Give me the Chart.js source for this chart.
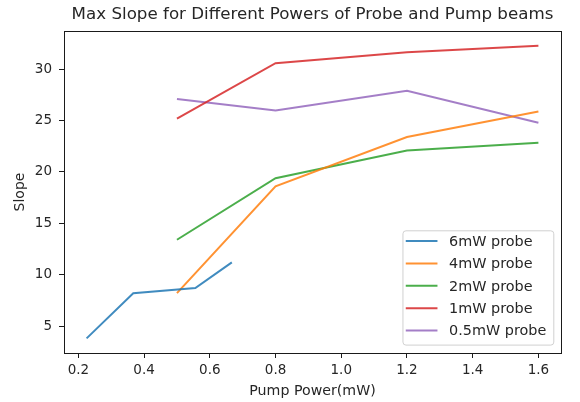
<!DOCTYPE html>
<html>
<head>
<meta charset="utf-8">
<script src="https://cdn.jsdelivr.net/npm/chart.js@4"></script>
<style>
  body { margin: 0; background: #fff; }
</style>
</head>
<body>
<canvas id="myChart" width="580" height="402"></canvas>
<script>
// values
const pump6 = [0.225, 0.367, 0.556, 0.667];
const slope6 = [3.8, 8.2, 8.7, 11.2];
const pumpPowers = [0.5, 0.8, 1.2, 1.6];
const slope4 = [8.2, 18.6, 23.4, 25.9];
const slope2 = [13.4, 19.4, 22.1, 22.85];
const slope1 = [25.2, 30.6, 31.65, 32.3];
const slope05 = [27.1, 26.0, 27.9, 24.8];
const probeLabels = ["6mW probe", "4mW probe", "2mW probe", "1mW probe", "0.5mW probe"];
const lineColors = [
  "rgba(31,119,180,0.85)",
  "rgba(255,127,14,0.85)",
  "rgba(44,160,44,0.85)",
  "rgba(214,39,40,0.85)",
  "rgba(148,103,189,0.85)",
];
const xTicks = [0.2, 0.4, 0.6, 0.8, 1.0, 1.2, 1.4, 1.6];
const yTicks = [5, 10, 15, 20, 25, 30];

const FONT = "'DejaVu Sans', sans-serif";
const TEXT = "#262626";

function pts(xs, ys) {
  return xs.map((x, i) => ({ x: x, y: ys[i] }));
}

const series = [
  pts(pump6, slope6),
  pts(pumpPowers, slope4),
  pts(pumpPowers, slope2),
  pts(pumpPowers, slope1),
  pts(pumpPowers, slope05),
];

// matplotlib-like 5% margins
const allX = series.flat().map((p) => p.x);
const allY = series.flat().map((p) => p.y);
function padRange(vals) {
  const lo = Math.min(...vals), hi = Math.max(...vals);
  const m = (hi - lo) * 0.05;
  return [lo - m, hi + m];
}
const [xMin, xMax] = padRange(allX);
const [yMin, yMax] = padRange(allY);

// frame around the axes
const frame = {
  id: "frame",
  afterDatasetsDraw(chart) {
    const a = chart.chartArea;
    const c = chart.ctx;
    c.save();
    c.strokeStyle = "#1a1a1a";
    c.lineWidth = 1;
    c.strokeRect(Math.round(a.left) + 0.5, Math.round(a.top) + 0.5,
      Math.round(a.right - a.left), Math.round(a.bottom - a.top));
    c.restore();
  },
};

// legend box at lower right, inside the axes
const boxLegend = {
  id: "boxLegend",
  afterDraw(chart) {
    const c = chart.ctx;
    const a = chart.chartArea;
    const sets = chart.data.datasets;
    c.save();
    c.font = "14.4px " + FONT;
    const textW = Math.max(...sets.map((d) => c.measureText(d.label).width));
    const rowH = 22.4;
    const w = 46.6 + textW + 7;
    const h = (sets.length - 1) * rowH + 24.7;
    const x = a.right - 7.7 - w;
    const y = a.bottom - 8.4 - h;
    c.fillStyle = "rgba(255,255,255,0.8)";
    c.strokeStyle = "#d0d0d0";
    c.lineWidth = 1;
    c.beginPath();
    c.roundRect(x + 0.5, y + 0.5, w, h, 3);
    c.fill();
    c.stroke();
    sets.forEach((d, i) => {
      const cy = y + 10.7 + i * rowH;
      c.strokeStyle = d.borderColor;
      c.lineWidth = 2;
      c.beginPath();
      c.moveTo(x + 3.3, cy);
      c.lineTo(x + 35, cy);
      c.stroke();
      c.fillStyle = TEXT;
      c.textBaseline = "middle";
      c.fillText(d.label, x + 46.6, cy + 1);
    });
    c.restore();
  },
};

const ctx = document.getElementById("myChart").getContext("2d");
const myChart = new Chart(ctx, {
  type: "line",
  data: {
    datasets: series.map((s, i) => ({
      label: probeLabels[i],
      data: s,
      borderColor: lineColors[i],
      backgroundColor: lineColors[i],
      borderWidth: 2,
      pointRadius: 0,
      tension: 0,
      fill: false,
    })),
  },
  options: {
    responsive: false,
    animation: false,
    layout: { padding: { left: 0, right: 19, top: 0, bottom: 0 } },
    plugins: {
      legend: { display: false },
      tooltip: { enabled: false },
      title: {
        display: true,
        fullSize: false,
        text: "Max Slope for Different Powers of Probe and Pump beams",
        color: TEXT,
        font: { family: FONT, size: 16.7, weight: "normal" },
        padding: { top: 5, bottom: 6 },
      },
    },
    scales: {
      x: {
        type: "linear",
        min: xMin,
        max: xMax,
        afterBuildTicks: (scale) => {
          scale.ticks = xTicks.map((v) => ({ value: v }));
        },
        afterFit: (scale) => {
          scale.height = 49;
        },
        ticks: {
          color: TEXT,
          font: { family: FONT, size: 13.5 },
          padding: 4,
          maxRotation: 0,
          callback: (v) => v.toFixed(1),
        },
        grid: { drawOnChartArea: false, drawTicks: true, tickLength: 5, color: "#1a1a1a" },
        border: { display: true, color: "#1a1a1a", width: 1 },
        title: {
          display: true,
          text: "Pump Power(mW)",
          color: TEXT,
          font: { family: FONT, size: 14.2 },
          padding: { top: 0, bottom: 2 },
        },
      },
      y: {
        type: "linear",
        min: yMin,
        max: yMax,
        afterBuildTicks: (scale) => {
          scale.ticks = yTicks.map((v) => ({ value: v }));
        },
        afterFit: (scale) => {
          scale.width = 64;
        },
        ticks: {
          color: TEXT,
          font: { family: FONT, size: 13.5 },
          padding: 7,
          callback: (v) => String(v),
        },
        grid: { drawOnChartArea: false, drawTicks: true, tickLength: 5, color: "#1a1a1a" },
        border: { display: true, color: "#1a1a1a", width: 1 },
        title: {
          display: true,
          text: "Slope",
          color: TEXT,
          font: { family: FONT, size: 14 },
          padding: { top: 11.5, bottom: 0 },
        },
      },
    },
  },
  plugins: [frame, boxLegend],
});
</script>
</body>
</html>
